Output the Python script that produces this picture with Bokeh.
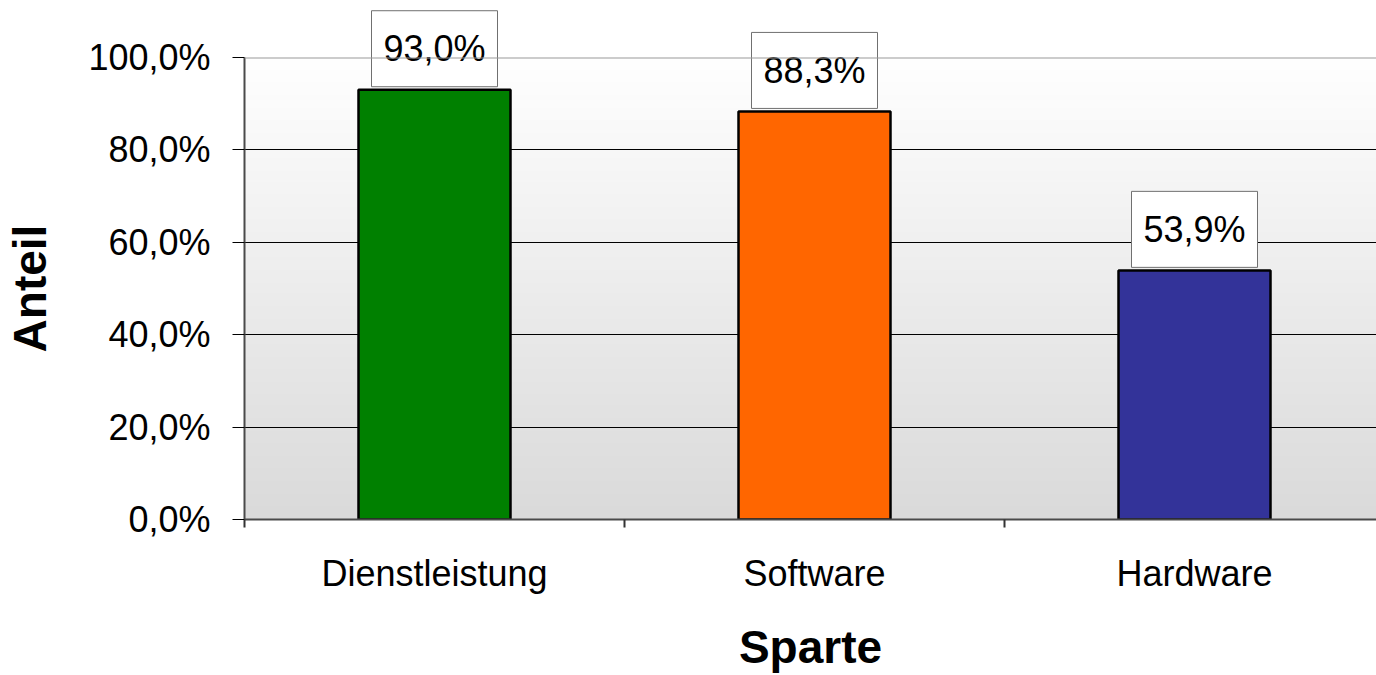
import numpy as np
from bokeh.plotting import figure
from bokeh.models import ColumnDataSource, FixedTicker, Range1d, Span
from bokeh.transform import dodge
from bokeh.core.properties import value
from bokeh.embed import file_html
from bokeh.resources import INLINE

# ---- data ----
categories = ["Dienstleistung", "Software", "Hardware"]
shares = [93.0, 88.3, 53.9]
bar_colors = ["#008000", "#FF6600", "#333399"]
y_ticks = [0, 20, 40, 60, 80, 100]
y_tick_labels = ["0,0%", "20,0%", "40,0%", "60,0%", "80,0%", "100,0%"]
x_title = "Sparte"
y_title = "Anteil"

FONT = "Liberation Sans"

n = len(categories)
centers = [i + 0.5 for i in range(n)]
labels = [("%.1f%%" % v).replace(".", ",") for v in shares]

src = ColumnDataSource(dict(x=centers, top=shares, color=bar_colors,
                            label=labels, cat=categories))

W, H = 1376, 675
ML, MT, MB = 244, 57, 156
px_per_cat = 380.0
x_end = (W - ML) / px_per_cat

p = figure(width=W, height=H, output_backend="svg", toolbar_location=None,
           x_range=Range1d(0, x_end), y_range=Range1d(y_ticks[0], y_ticks[-1]),
           min_border_left=ML, min_border_right=0, min_border_top=MT,
           min_border_bottom=MB)

p.background_fill_color = "white"
p.border_fill_color = "white"
p.outline_line_color = None

# gradient plot-area background
steps = 256
g = np.linspace(218, 255, steps)  # bottom -> top
img = np.zeros((steps, 1), dtype=np.uint32)
view = img.view(dtype=np.uint8).reshape((steps, 1, 4))
view[:, 0, 0] = g.astype(np.uint8)
view[:, 0, 1] = g.astype(np.uint8)
view[:, 0, 2] = g.astype(np.uint8)
view[:, 0, 3] = 255
p.image_rgba(image=[img], x=0, y=0, dw=x_end, dh=y_ticks[-1], level="image")

# grid
p.xgrid.visible = False
p.ygrid.ticker = FixedTicker(ticks=y_ticks[1:-1])
p.ygrid.grid_line_color = "black"
p.ygrid.grid_line_width = 1

p.add_layout(Span(location=y_ticks[-1], dimension="width",
                  line_color="#9a9a9a", line_width=2))

# bars
p.vbar(x="x", top="top", width=0.4, source=src, fill_color="color",
       line_color="black", line_width=2.5)

# value labels in boxes (drawn at annotation level so they may extend above the plot area)
p.rect(x="x", y=dodge("top", 8.9, range=p.y_range), width=126, height=76,
       width_units="screen", height_units="screen", source=src,
       fill_color="white", line_color="#707070", line_width=1, level="annotation")
p.text(x="x", y=dodge("top", 8.9, range=p.y_range), text="label", source=src,
       text_align="center", text_baseline="middle",
       text_font=value(FONT), text_font_size="36px", text_color="black",
       level="annotation")

# y axis
ya = p.yaxis[0]
ya.ticker = FixedTicker(ticks=y_ticks)
ya.major_label_overrides = {t: l for t, l in zip(y_ticks, y_tick_labels)}
ya.major_label_text_font = FONT
ya.major_label_text_font_size = "36px"
ya.major_label_text_color = "black"
ya.major_label_standoff = 22
ya.major_tick_out = 12
ya.major_tick_in = 0
ya.major_tick_line_color = "black"
ya.major_tick_line_width = 1
ya.minor_tick_line_color = None
ya.axis_line_color = "#4a4a4a"
ya.axis_line_width = 2
ya.axis_label = y_title
ya.axis_label_text_font = FONT
ya.axis_label_text_font_style = "bold"
ya.axis_label_text_font_size = "46px"
ya.axis_label_text_color = "black"
ya.axis_label_standoff = 29

# x axis
xa = p.xaxis[0]
xa.ticker = FixedTicker(ticks=centers, minor_ticks=list(range(n + 1)))
xa.major_label_overrides = {c: cat for c, cat in zip(centers, categories)}
xa.major_label_text_font = FONT
xa.major_label_text_font_size = "36px"
xa.major_label_text_color = "black"
xa.major_label_standoff = 25
xa.major_tick_line_color = None
xa.major_tick_out = 8
xa.minor_tick_out = 8
xa.minor_tick_in = 0
xa.minor_tick_line_color = "#333333"
xa.minor_tick_line_width = 2
xa.axis_line_color = "#4a4a4a"
xa.axis_line_width = 2
xa.axis_label = x_title
xa.axis_label_text_font = FONT
xa.axis_label_text_font_style = "bold"
xa.axis_label_text_font_size = "46px"
xa.axis_label_text_color = "black"
xa.axis_label_standoff = 24

open("out.html", "w").write(file_html(p, INLINE))
